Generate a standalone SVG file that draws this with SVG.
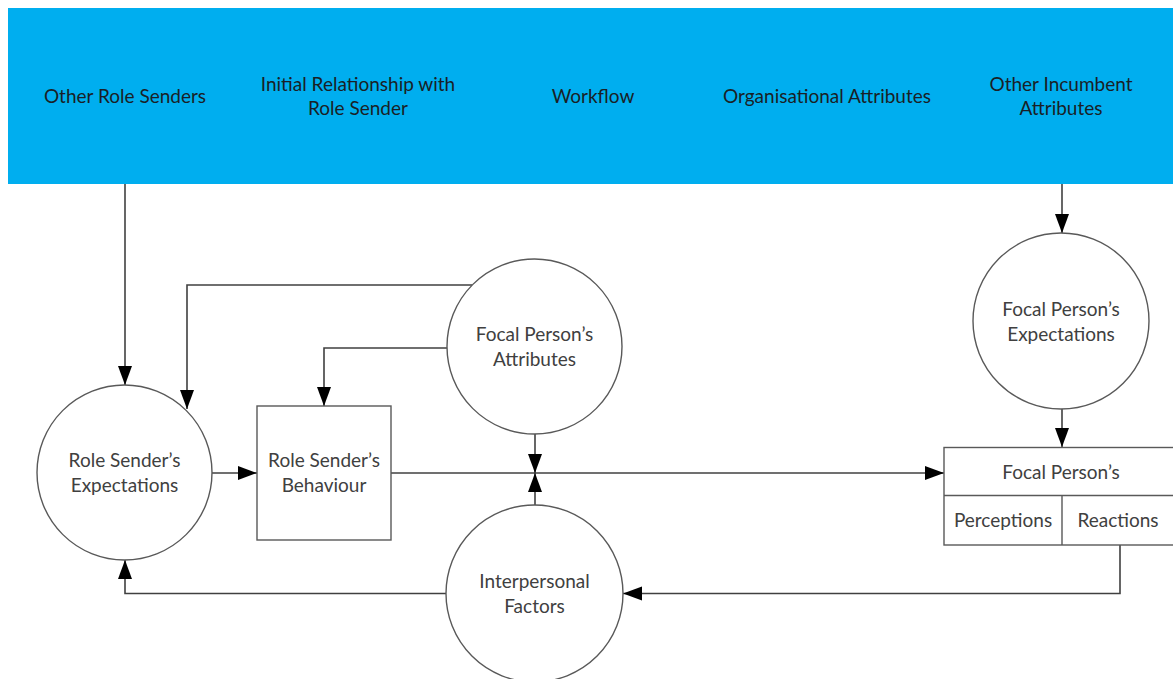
<svg xmlns="http://www.w3.org/2000/svg" width="1173" height="679" viewBox="0 0 1173 679">
  <style>
    .banner-text { font-family: Lato, "Liberation Sans", sans-serif; font-size: 19px; fill: #1a1f26; text-anchor: middle; }
    .node-text { font-family: Lato, "Liberation Sans", sans-serif; font-size: 19px; fill: #404040; text-anchor: middle; }
    .shape { fill: #ffffff; stroke: #595959; stroke-width: 1.4; }
    .link { fill: none; stroke: #404040; stroke-width: 1.6; }
  </style>
  <defs>
    <marker id="arrow" markerUnits="userSpaceOnUse" markerWidth="20" markerHeight="15" refX="19" refY="7" orient="auto">
      <path d="M0,0 L19,7 L0,14 z" fill="#000000"/>
    </marker>
  </defs>

  <rect width="1173" height="679" fill="#ffffff"/>

  <!-- environment banner -->
  <g id="banner">
    <rect x="8" y="8" width="1170" height="176" fill="#00aeef"/>
    <text class="banner-text" x="125" y="103">Other Role Senders</text>
    <text class="banner-text" x="358" y="91">Initial Relationship with</text>
    <text class="banner-text" x="358" y="115">Role Sender</text>
    <text class="banner-text" x="593" y="103">Workflow</text>
    <text class="banner-text" x="827" y="103">Organisational Attributes</text>
    <text class="banner-text" x="1061" y="91">Other Incumbent</text>
    <text class="banner-text" x="1061" y="115">Attributes</text>
  </g>

  <!-- connectors -->
  <g id="connectors">
    <path class="link" d="M125,184 V385" marker-end="url(#arrow)"/>
    <path class="link" d="M472,285 H187 V409" marker-end="url(#arrow)"/>
    <path class="link" d="M447,348 H324 V406" marker-end="url(#arrow)"/>
    <path class="link" d="M212,473 H257" marker-end="url(#arrow)"/>
    <path class="link" d="M391,473 H944" marker-end="url(#arrow)"/>
    <path class="link" d="M535,434 V473" marker-end="url(#arrow)"/>
    <path class="link" d="M535,505 V473" marker-end="url(#arrow)"/>
    <path class="link" d="M1062,184 V233" marker-end="url(#arrow)"/>
    <path class="link" d="M1062,409 V447" marker-end="url(#arrow)"/>
    <path class="link" d="M1120,545 V593.5 H623" marker-end="url(#arrow)"/>
    <path class="link" d="M446,593.5 H125 V560" marker-end="url(#arrow)"/>
  </g>

  <g id="role-sender-expectations">
    <circle class="shape" cx="124.5" cy="472.5" r="87.5"/>
    <text class="node-text" x="124.5" y="467">Role Sender’s</text>
    <text class="node-text" x="124.5" y="492">Expectations</text>
  </g>

  <g id="role-sender-behaviour">
    <rect class="shape" x="257" y="406" width="134" height="134"/>
    <text class="node-text" x="324" y="467">Role Sender’s</text>
    <text class="node-text" x="324" y="492">Behaviour</text>
  </g>

  <g id="focal-person-attributes">
    <circle class="shape" cx="534.5" cy="346.5" r="87.5"/>
    <text class="node-text" x="534.5" y="341">Focal Person’s</text>
    <text class="node-text" x="534.5" y="366">Attributes</text>
  </g>

  <g id="interpersonal-factors">
    <circle class="shape" cx="534.5" cy="593.5" r="88.5"/>
    <text class="node-text" x="534.5" y="588">Interpersonal</text>
    <text class="node-text" x="534.5" y="613">Factors</text>
  </g>

  <g id="focal-person-expectations">
    <circle class="shape" cx="1061" cy="321" r="88"/>
    <text class="node-text" x="1061" y="316">Focal Person’s</text>
    <text class="node-text" x="1061" y="341">Expectations</text>
  </g>

  <g id="focal-person-table">
    <rect class="shape" x="944" y="447.5" width="240" height="97.5"/>
    <path class="shape" d="M944,495.5 H1184 M1062,495.5 V545"/>
    <text class="node-text" x="1061" y="479">Focal Person’s</text>
    <text class="node-text" x="1003" y="527">Perceptions</text>
    <text class="node-text" x="1118" y="527">Reactions</text>
  </g>
</svg>
